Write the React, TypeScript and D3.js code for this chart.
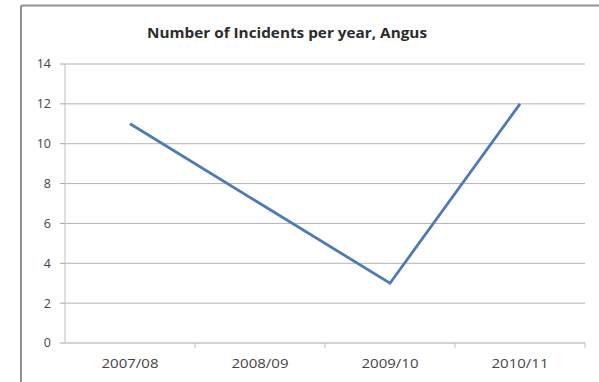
import React from "react";
import * as d3 from "d3";

const title = "Number of Incidents per year, Angus";
const seasons = ["2007/08", "2008/09", "2009/10", "2010/11"];
const incidents = [11, 7, 3, 12];
const yTicks = [0, 2, 4, 6, 8, 10, 12, 14];

const W = 599;
const H = 382;
const plot = { left: 65, right: 585, top: 64, bottom: 343 };

export default function App() {
  const x = d3.scaleBand<string>().domain(seasons).range([plot.left, plot.right]);
  const y = d3.scaleLinear().domain([0, 14]).range([plot.bottom, plot.top]);
  const line = d3
    .line<number>()
    .x((_, i) => (x(seasons[i]) as number) + x.bandwidth() / 2)
    .y((d) => y(d));

  const font = "'Open Sans', 'Liberation Sans', sans-serif";
  const boundaries = seasons.map((s) => (x(s) as number) + x.bandwidth());

  return (
    <svg
      width={W}
      height={H}
      style={{ position: "absolute", left: 0, top: 0 }}
      fontFamily={font}
    >
      <rect x={0} y={0} width={W} height={H} fill="#fff" />
      {/* chart frame: top and left edges */}
      <line x1={21} x2={W} y1={5.5} y2={5.5} stroke="#8f8f8f" strokeWidth={2} />
      <line x1={21} x2={21} y1={5.5} y2={H} stroke="#8f8f8f" strokeWidth={2} />

      <text
        x={287}
        y={38}
        textAnchor="middle"
        fontSize={14}
        fontWeight="bold"
        fill="#2b2b2b"
        textLength={280}
        lengthAdjust="spacingAndGlyphs"
      >
        {title}
      </text>

      {yTicks.map((t) => (
        <g key={t}>
          <line
            x1={plot.left}
            x2={plot.right}
            y1={y(t)}
            y2={y(t)}
            stroke={t === 0 ? "#a6a6a6" : "#b3b3b3"}
            strokeWidth={1}
          />
          <line x1={plot.left - 5} x2={plot.left} y1={y(t)} y2={y(t)} stroke="#a6a6a6" />
          <text
            x={51}
            y={y(t)}
            dy="0.35em"
            textAnchor="end"
            fontSize={12.5}
            fill="#444"
          >
            {t}
          </text>
        </g>
      ))}

      <line x1={plot.left} x2={plot.left} y1={plot.top} y2={plot.bottom} stroke="#bfbfbf" />
      {boundaries.map((b, i) => (
        <line key={i} x1={b} x2={b} y1={plot.bottom} y2={plot.bottom + 5} stroke="#bfbfbf" />
      ))}

      {seasons.map((s) => (
        <text
          key={s}
          x={(x(s) as number) + x.bandwidth() / 2}
          y={364}
          dy="0.35em"
          textAnchor="middle"
          fontSize={12.5}
          fill="#444"
          textLength={57}
          lengthAdjust="spacingAndGlyphs"
        >
          {s}
        </text>
      ))}

      <path
        d={line(incidents) ?? ""}
        fill="none"
        stroke="#4f7bb5"
        strokeWidth={2.8}
        strokeLinejoin="miter"
      />
    </svg>
  );
}
